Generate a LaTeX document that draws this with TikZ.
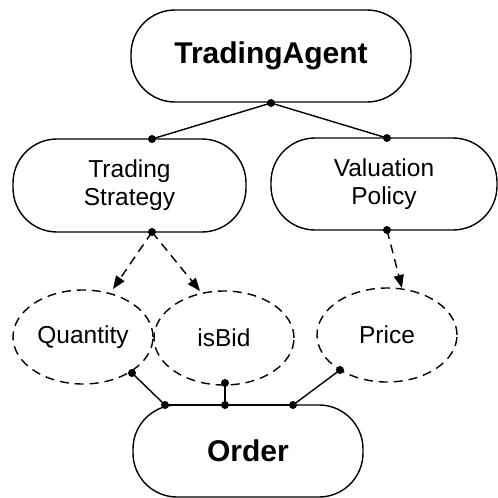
\documentclass[tikz,border=0pt]{standalone}
\usepackage{fontspec}
\setmainfont{Liberation Sans}
\usetikzlibrary{shapes.geometric,arrows.meta}
\begin{document}
\begin{tikzpicture}[x=1pt,y=-1pt,
  stadium/.style={draw,line width=1.4pt,rounded corners=44pt,inner sep=0pt,align=center},
  bigtxt/.style={font=\fontsize{30}{34}\selectfont\bfseries},
  smalltxt/.style={font=\fontsize{24.5}{28}\selectfont},
  attr/.style={draw,ellipse,dash pattern=on 9pt off 6pt,line width=1.4pt,minimum width=140pt,minimum height=94pt,inner sep=0pt,font=\fontsize{24.5}{28}\selectfont},
  link/.style={line width=1.4pt},
  dlink/.style={line width=1.4pt,dash pattern=on 9pt off 6pt,-{Triangle[length=13pt,width=10pt]}},
  dotc/.style={fill=black,circle,inner sep=0pt,minimum size=8pt}
]
\useasboundingbox (0,0) rectangle (498,498);
% main nodes
\node[stadium,bigtxt,minimum width=280pt,minimum height=92pt] (ta) at (271,56) {TradingAgent};
\node[stadium,smalltxt,minimum width=233pt,minimum height=93pt] (ts) at (129.5,185.5) {Trading\\Strategy};
\node[stadium,smalltxt,minimum width=226pt,minimum height=92pt] (vp) at (384,184) {Valuation\\Policy};
\node[attr] (qty) at (83,337) {Quantity};
\node[attr] (bid) at (224,338) {isBid};
\node[attr] (price) at (387,335) {Price};
\node[stadium,bigtxt,minimum width=230pt,minimum height=92pt] (ord) at (248,451) {Order};
% connection points
\coordinate (taB) at (271,103);
\coordinate (tsT) at (152,139);
\coordinate (vpT) at (387,138);
\coordinate (tsB) at (152,232);
\coordinate (vpB) at (387,230);
\coordinate (qtyT) at (113,289);
\coordinate (bidT) at (200,291);
\coordinate (priceT) at (402,288);
\coordinate (qtyB) at (132,373);
\coordinate (bidB) at (225,383);
\coordinate (priceB) at (340,370);
\coordinate (ordA) at (165,405);
\coordinate (ordB) at (225,405);
\coordinate (ordC) at (293,405);
% connectors
\draw[link] (taB) -- (tsT);
\draw[link] (taB) -- (vpT);
\draw[dlink] (tsB) -- (qtyT);
\draw[dlink] (tsB) -- (bidT);
\draw[dlink] (vpB) -- (priceT);
\draw[link] (qtyB) -- (ordA);
\draw[link] (bidB) -- (ordB);
\draw[link] (priceB) -- (ordC);
\draw[link] (ordA) -- (ordC);
% dots
\foreach \p in {taB,tsT,vpT,tsB,vpB,qtyB,bidB,priceB,ordA,ordB,ordC}
  \node[dotc] at (\p) {};
\end{tikzpicture}
\end{document}
